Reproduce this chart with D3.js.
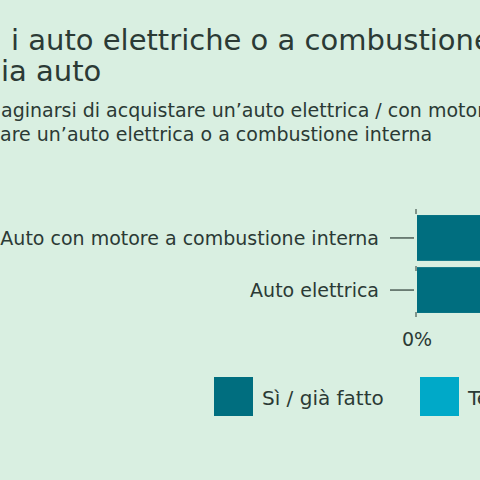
<!DOCTYPE html>
<html lang="it">
<head>
<meta charset="UTF-8">
<script src="https://d3js.org/d3.v7.min.js"></script>
<style>
    body { margin: 0; background: #d9efe1; font-family: "DejaVu Sans", Arial, sans-serif; }
    svg { display: block; }
</style>
</head>
<body>
<svg id="chart" width="480" height="480"></svg>
<script>
    // categories and series (only the first series is visible in the crop)
    const categories = ["Auto con motore a combustione interna", "Auto elettrica"];
    const seriesNames = ["Sì / già fatto", "Tendenzialmente sì"];
    const seriesColors = ["#006e7f", "#00a9c8"];
    const yesValues = [22, 18];
    const maybeValues = [30, 28];
    const tickValues = [0];

    const ink = "#2b3a35";
    const svg = d3.select("#chart");
    svg.append("rect").attr("width", 480).attr("height", 480).attr("fill", "#d9efe1");

    // title (crop of a wider chart)
    const title = svg.append("g").attr("fill", ink).style("font-size", "29px");
    title.append("text").attr("x", 11).attr("y", 50).text("i auto elettriche o a combustione interna");
    title.append("text").attr("x", 1).attr("y", 81).text("ia auto");

    const sub = svg.append("g").attr("fill", ink).style("font-size", "19px");
    sub.append("text").attr("x", 1).attr("y", 117).text("aginarsi di acquistare un’auto elettrica / con motore");
    sub.append("text").attr("x", 0).attr("y", 141).text("are un’auto elettrica o a combustione interna");

    const x = d3.scaleLinear().domain([0, 100]).range([417, 900]);
    const y = d3.scaleBand().domain(categories).range([214, 314]).paddingInner(0.12).paddingOuter(0.02);

    const stacked = categories.map((c, i) => ({ c, a: yesValues[i], b: maybeValues[i] }));
    svg.selectAll(".yes").data(stacked).join("rect")
        .attr("x", x(0)).attr("y", d => y(d.c))
        .attr("width", d => x(d.a) - x(0)).attr("height", y.bandwidth())
        .attr("fill", seriesColors[0]);
    svg.selectAll(".maybe").data(stacked).join("rect")
        .attr("x", d => x(d.a)).attr("y", d => y(d.c))
        .attr("width", d => x(d.a + d.b) - x(d.a)).attr("height", y.bandwidth())
        .attr("fill", seriesColors[1]);

    // category labels with leader lines
    const lab = svg.append("g").attr("fill", ink).style("font-size", "19px");
    categories.forEach(c => {
        const cy = y(c) + y.bandwidth() / 2;
        lab.append("line").attr("x1", 390).attr("x2", 414).attr("y1", cy).attr("y2", cy)
            .attr("stroke", ink).attr("stroke-width", 1.2);
        lab.append("text").attr("x", 379).attr("y", cy + 7).attr("text-anchor", "end").text(c);
    });

    // axis ticks
    svg.selectAll(".tk").data(tickValues).join("text")
        .attr("x", d => x(d)).attr("y", 346).attr("text-anchor", "middle")
        .attr("fill", ink).style("font-size", "19px").text(d => d + "%");
    [209, 266, 312].forEach(ty => svg.append("line").attr("x1", 416).attr("x2", 416)
        .attr("y1", ty).attr("y2", ty + 5).attr("stroke", ink).attr("stroke-width", 1));

    // legend
    const lx = [214, 420];
    seriesNames.forEach((n, i) => {
        svg.append("rect").attr("x", lx[i]).attr("y", 377).attr("width", 39).attr("height", 39)
            .attr("fill", seriesColors[i]);
        svg.append("text").attr("x", lx[i] + 48).attr("y", 405).attr("fill", ink)
            .style("font-size", "20px").text(n);
    });
</script>
</body>
</html>
